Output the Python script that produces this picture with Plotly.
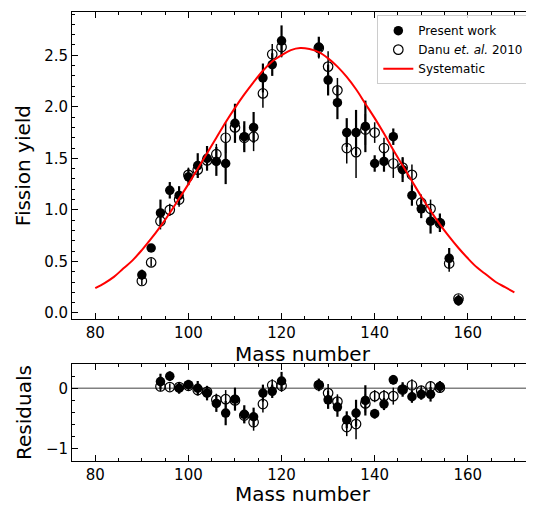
import plotly.graph_objects as go

# page body has an 8px margin, so the figure is made 8px smaller and margins shifted
width_standard = 526
height_standard = 498
font_family = 'DejaVu Sans'

# top panel data
mass = [90, 92, 94, 96, 98, 100, 102, 104, 106, 108, 110, 112, 114, 116, 118, 120,
        128, 130, 132, 134, 136, 138, 140, 142, 144, 146, 148, 150, 152, 154, 156, 158]
present_yield = [0.37, 0.63, 0.97, 1.19, 1.14, 1.32, 1.43, 1.50, 1.47, 1.45, 1.84, 1.71, 1.80, 2.28, 2.41, 2.64,
                 2.58, 2.26, 2.04, 1.75, 1.75, 1.81, 1.45, 1.47, 1.71, 1.39, 1.14, 1.01, 0.89, 0.875, 0.53, 0.12]
present_err = [0.05, 0.02, 0.13, 0.08, 0.09, 0.08, 0.12, 0.12, 0.14, 0.20, 0.19, 0.15, 0.15, 0.14, 0.11, 0.15,
               0.10, 0.15, 0.16, 0.14, 0.22, 0.25, 0.08, 0.10, 0.08, 0.12, 0.10, 0.09, 0.12, 0.09, 0.10, 0.05]
danu_yield = [0.31, 0.49, 0.89, 1.00, 1.10, 1.34, 1.39, 1.48, 1.54, 1.70, 1.80, 1.70, 1.71, 2.13, 2.51, 2.58,
              2.57, 2.39, 2.16, 1.60, 1.56, 1.78, 1.75, 1.60, 1.45, 1.41, 1.34, 1.07, 1.01, 0.87, 0.48, 0.14]
danu_err = [0.04, 0.04, 0.08, 0.06, 0.07, 0.07, 0.08, 0.09, 0.10, 0.15, 0.12, 0.12, 0.14, 0.14, 0.10, 0.10,
            0.10, 0.15, 0.12, 0.15, 0.25, 0.15, 0.10, 0.10, 0.14, 0.10, 0.10, 0.08, 0.09, 0.08, 0.08, 0.04]

# systematic curve
sys_mass = [80, 82, 84, 86, 88, 90, 92, 94, 96, 98, 100, 102, 104, 106, 108, 110, 112, 114, 116, 118, 120, 122, 124,
            126, 128, 130, 132, 134, 136, 138, 140, 142, 144, 146, 148, 150, 152, 154, 156, 158, 160, 162, 164,
            166, 168, 170]
sys_yield = [0.24, 0.29, 0.35, 0.43, 0.51, 0.61, 0.72, 0.84, 0.97, 1.11, 1.25, 1.40, 1.55, 1.70, 1.85, 1.99,
             2.12, 2.24, 2.35, 2.44, 2.50, 2.55, 2.57,
             2.56, 2.53, 2.47, 2.39, 2.29, 2.17, 2.03, 1.89, 1.74, 1.58, 1.43, 1.28, 1.13, 0.99, 0.86, 0.74,
             0.63, 0.53, 0.44, 0.37, 0.30, 0.25, 0.20]

# residuals panel data
res_mass = [94, 96, 98, 100, 102, 104, 106, 108, 110, 112, 114, 116, 118, 120,
            128, 130, 132, 134, 136, 138, 140, 142, 144, 146, 148, 150, 152, 154]
present_res = [0.11, 0.20, 0.00, 0.06, 0.00, -0.08, -0.25, -0.41, -0.18, -0.43, -0.47, -0.08, -0.05, 0.12,
               0.06, -0.19, -0.31, -0.52, -0.41, -0.20, -0.42, -0.26, 0.14, -0.02, -0.14, -0.10, -0.10, 0.03]
danu_res = [0.03, 0.02, 0.02, 0.04, -0.03, -0.06, -0.19, -0.18, -0.20, -0.45, -0.56, -0.26, 0.05, 0.04,
            0.05, -0.08, -0.22, -0.64, -0.59, -0.25, -0.13, -0.13, -0.13, -0.02, 0.05, -0.04, 0.03, 0.01]

present_res_err = [present_err[mass.index(m)] for m in res_mass]
danu_res_err = [danu_err[mass.index(m)] for m in res_mass]


def axis_style(**kw):
    d = dict(
        showgrid=False, zeroline=False, showline=True, linecolor='black', linewidth=1,
        mirror='allticks', ticks='inside', ticklen=6, tickwidth=1, tickcolor='black',
        tickfont=dict(size=15, color='black', family=font_family),
        title_font=dict(size=20, color='black', family=font_family),
        automargin=False,
    )
    d.update(kw)
    return d


fig = go.Figure()

fig.add_trace(go.Scatter(
    x=mass, y=present_yield, mode='markers', name='Present work',
    marker=dict(symbol='circle', size=9.5, color='black'),
    error_y=dict(type='data', array=present_err, width=0, thickness=2.2, color='black'),
    xaxis='x', yaxis='y'
))
fig.add_trace(go.Scatter(
    x=mass, y=danu_yield, mode='markers', name='Danu <i>et. al.</i> 2010',
    marker=dict(symbol='circle-open', size=9.5, color='black', line=dict(width=1.2)),
    error_y=dict(type='data', array=danu_err, width=0, thickness=1.5, color='black'),
    xaxis='x', yaxis='y'
))
fig.add_trace(go.Scatter(
    x=sys_mass, y=sys_yield, mode='lines', name='Systematic',
    line=dict(color='red', width=2, shape='spline'),
    xaxis='x', yaxis='y'
))

fig.add_trace(go.Scatter(
    x=res_mass, y=present_res, mode='markers', showlegend=False,
    marker=dict(symbol='circle', size=9.5, color='black'),
    error_y=dict(type='data', array=present_res_err, width=0, thickness=2.2, color='black'),
    xaxis='x2', yaxis='y2'
))
fig.add_trace(go.Scatter(
    x=res_mass, y=danu_res, mode='markers', showlegend=False,
    marker=dict(symbol='circle-open', size=9.5, color='black', line=dict(width=1.2)),
    error_y=dict(type='data', array=danu_res_err, width=0, thickness=1.5, color='black'),
    xaxis='x2', yaxis='y2'
))

fig.update_layout(
    width=width_standard,
    height=height_standard,
    margin=dict(l=64, r=1, t=4, b=45),
    plot_bgcolor='#ffffff',
    paper_bgcolor='#ffffff',
    font=dict(family=font_family, color='black'),
    xaxis=axis_style(domain=[0, 1], anchor='y', range=[75, 174], dtick=20,
                     minor=dict(dtick=5, ticklen=3, ticks='inside', tickcolor='black'),
                     title=dict(text='Mass number', standoff=2)),
    yaxis=axis_style(domain=[0.316, 1], anchor='x', range=[-0.06, 2.92], dtick=0.5, tickformat='.1f',
                     minor=dict(dtick=0.1, ticklen=3, ticks='inside', tickcolor='black'),
                     title=dict(text='Fission yield', standoff=8)),
    xaxis2=axis_style(domain=[0, 1], anchor='y2', range=[75, 174], dtick=20,
                      minor=dict(dtick=5, ticklen=3, ticks='inside', tickcolor='black'),
                      title=dict(text='Mass number', standoff=2)),
    yaxis2=axis_style(domain=[0, 0.216], anchor='x2', range=[-1.2, 0.4], dtick=1,
                      minor=dict(dtick=0.2, ticklen=3, ticks='inside', tickcolor='black'),
                      title=dict(text='Residuals', standoff=8)),
    legend=dict(
        x=0.992, y=0.993, xanchor='right', yanchor='top',
        bgcolor='rgba(255,255,255,0.8)', bordercolor='#cccccc', borderwidth=1,
        font=dict(size=12, family=font_family, color='black'),
        itemwidth=30, tracegroupgap=0
    ),
    shapes=[dict(type='line', xref='x2 domain', yref='y2', x0=0, x1=1, y0=0, y1=0,
                 line=dict(color='gray', width=1.5), layer='below')],
)

fig.write_html("out.html")
